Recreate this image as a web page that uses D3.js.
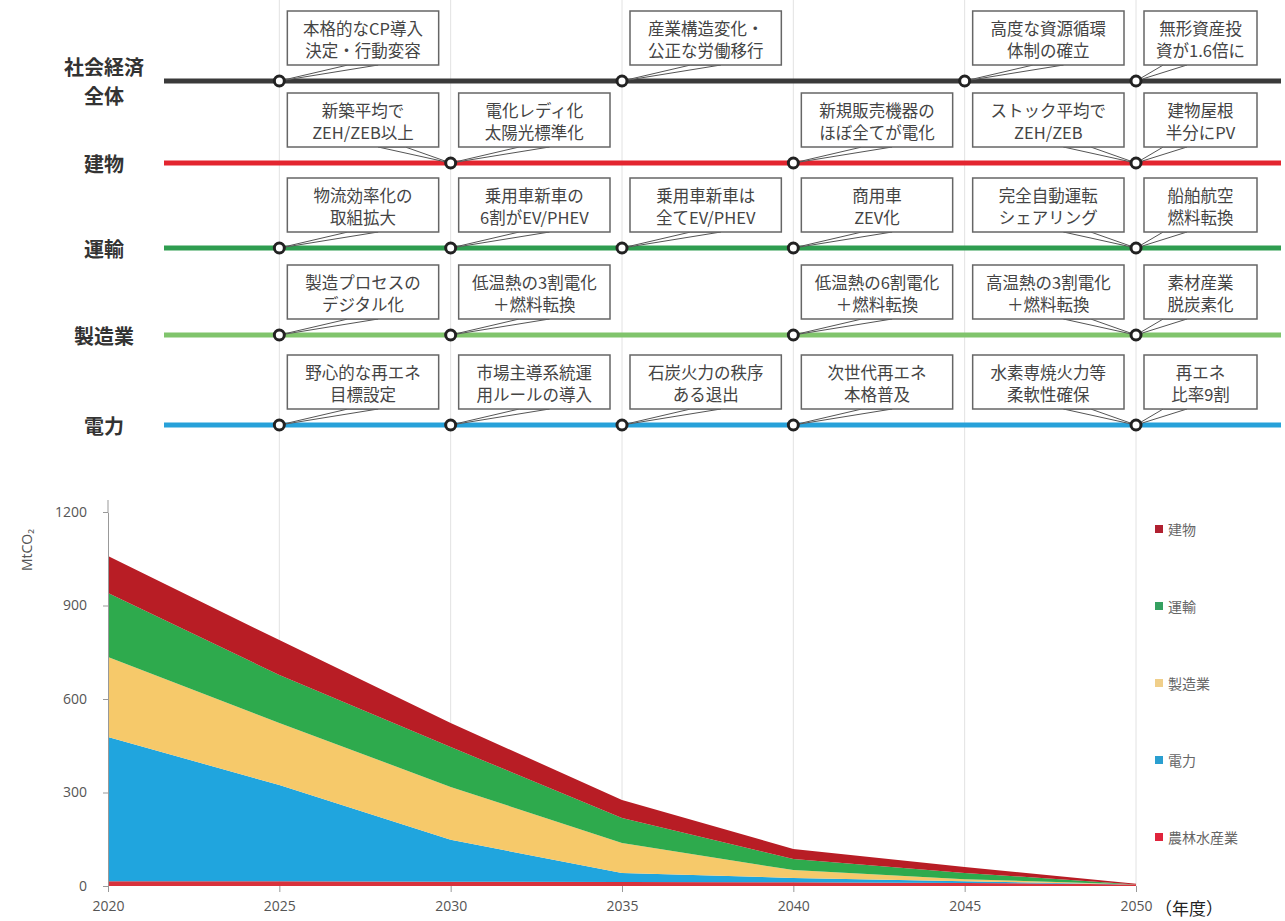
<!DOCTYPE html>
<html><head><meta charset="utf-8">
<script src="https://cdn.jsdelivr.net/npm/d3@7"></script>
<style>body{margin:0;background:#fff;} svg{display:block;font-family:"Noto Sans CJK JP","Noto Sans",sans-serif;}</style>
</head><body><svg id="c" width="1285" height="921"></svg>
<script>
// ---------- data ----------
const years = [2020, 2025, 2030, 2035, 2040, 2045, 2050];
const seriesKeys = ["農林水産業", "電力", "製造業", "運輸", "建物"];
const agriculture   = [15, 15, 14, 13, 12, 10, 5];
const power         = [463, 309, 134, 29, 14, 5, 0];
const manufacturing = [257, 199, 170, 96, 25, 7, 0];
const transport     = [205, 154, 128, 80, 36, 20, 0];
const buildings     = [119, 112, 77, 58, 32, 19, 2];
const yTicks = [0, 300, 600, 900, 1200];
const legendOrder = ["建物", "運輸", "製造業", "電力", "農林水産業"];

const rowNames = ["社会経済\n全体", "建物", "運輸", "製造業", "電力"];
const milestones = [
  {row:0, year:2025, col:2025, text:"本格的なCP導入\n決定・行動変容"},
  {row:0, year:2035, col:2035, text:"産業構造変化・\n公正な労働移行"},
  {row:0, year:2045, col:2045, text:"高度な資源循環\n体制の確立"},
  {row:0, year:2050, col:2050, text:"無形資産投\n資が1.6倍に"},
  {row:1, year:2030, col:2025, text:"新築平均で\nZEH/ZEB以上"},
  {row:1, year:2030, col:2030, text:"電化レディ化\n太陽光標準化"},
  {row:1, year:2040, col:2040, text:"新規販売機器の\nほぼ全てが電化"},
  {row:1, year:2050, col:2045, text:"ストック平均で\nZEH/ZEB"},
  {row:1, year:2050, col:2050, text:"建物屋根\n半分にPV"},
  {row:2, year:2025, col:2025, text:"物流効率化の\n取組拡大"},
  {row:2, year:2030, col:2030, text:"乗用車新車の\n6割がEV/PHEV"},
  {row:2, year:2035, col:2035, text:"乗用車新車は\n全てEV/PHEV"},
  {row:2, year:2040, col:2040, text:"商用車\nZEV化"},
  {row:2, year:2050, col:2045, text:"完全自動運転\nシェアリング"},
  {row:2, year:2050, col:2050, text:"船舶航空\n燃料転換"},
  {row:3, year:2025, col:2025, text:"製造プロセスの\nデジタル化"},
  {row:3, year:2030, col:2030, text:"低温熱の3割電化\n＋燃料転換"},
  {row:3, year:2040, col:2040, text:"低温熱の6割電化\n＋燃料転換"},
  {row:3, year:2050, col:2045, text:"高温熱の3割電化\n＋燃料転換"},
  {row:3, year:2050, col:2050, text:"素材産業\n脱炭素化"},
  {row:4, year:2025, col:2025, text:"野心的な再エネ\n目標設定"},
  {row:4, year:2030, col:2030, text:"市場主導系統運\n用ルールの導入"},
  {row:4, year:2035, col:2035, text:"石炭火力の秩序\nある退出"},
  {row:4, year:2040, col:2040, text:"次世代再エネ\n本格普及"},
  {row:4, year:2050, col:2045, text:"水素専焼火力等\n柔軟性確保"},
  {row:4, year:2050, col:2050, text:"再エネ\n比率9割"}
];

// ---------- styles / layout ----------
const colors = {"農林水産業":"#d8323c","電力":"#20a5de","製造業":"#f6c96a","運輸":"#2eaa4d","建物":"#b81d25"};
const legendColors = {"農林水産業":"#e0243c","電力":"#2a9fd0","製造業":"#f0cf8a","運輸":"#35a060","建物":"#b02030"};
const rowColors = ["#3a3a3a","#e3252f","#2f9d50","#80c46c","#27a1d9"];
const rowY = [81, 163, 248, 335, 425];

const svg = d3.select("#c");
const x = d3.scaleLinear().domain([2020, 2050]).range([108, 1136]);
const y = d3.scaleLinear().domain([0, 1200]).range([886, 512]);

// gridlines
svg.append("g").selectAll("line").data(years.slice(1)).join("line")
  .attr("x1", d => x(d)).attr("x2", d => x(d))
  .attr("y1", 0).attr("y2", y(0))
  .attr("stroke", "#e2e2e2").attr("stroke-width", 1);

// ---------- stacked area ----------
const table = years.map((yr, i) => ({
  year: yr, "農林水産業": agriculture[i], "電力": power[i], "製造業": manufacturing[i],
  "運輸": transport[i], "建物": buildings[i]
}));
const stacked = d3.stack().keys(seriesKeys)(table);
const area = d3.area().x(d => x(d.data.year)).y0(d => y(d[0])).y1(d => y(d[1]));
svg.append("g").selectAll("path").data(stacked).join("path")
  .attr("d", area).attr("fill", d => colors[d.key]);

// axes
const yAxis = svg.append("g").attr("transform", `translate(${x(2020)},0)`)
  .call(d3.axisLeft(y).tickValues(yTicks).tickFormat(d3.format("d")).tickSize(5).tickSizeOuter(0).tickPadding(16));
yAxis.select(".domain").attr("stroke", "#999");
yAxis.selectAll(".tick line").attr("stroke", "#999");
yAxis.selectAll("text").attr("font-family", "'Open Sans',sans-serif").attr("font-size", 14).attr("fill", "#555");
svg.append("line").attr("x1", x(2020)).attr("x2", x(2020)).attr("y1", 500).attr("y2", y(1200)).attr("stroke", "#999");

const xAxis = svg.append("g").attr("transform", `translate(0,${y(0)})`)
  .call(d3.axisBottom(x).tickValues(years).tickFormat(d3.format("d")).tickSize(6).tickSizeOuter(0).tickPadding(9));
xAxis.select(".domain").remove();
xAxis.selectAll(".tick line").attr("stroke", "#999");
xAxis.selectAll("text").attr("font-family", "'Open Sans',sans-serif").attr("font-size", 14).attr("fill", "#555");

svg.append("text").attr("transform", "translate(26,550) rotate(-90)")
  .attr("text-anchor", "middle").attr("dominant-baseline", "central")
  .attr("font-family", "'Open Sans',sans-serif").attr("font-size", 14).attr("fill", "#555")
  .text("MtCO₂");

svg.append("text").attr("x", 1155).attr("y", 907).attr("dominant-baseline", "central")
  .attr("font-size", 17).attr("fill", "#222").text("（年度）");

// legend
const lg = svg.append("g").selectAll("g").data(legendOrder).join("g")
  .attr("transform", (d, i) => `translate(1155,${529 + i * 77})`);
lg.append("rect").attr("x", 0).attr("y", -4).attr("width", 8).attr("height", 8).attr("fill", d => legendColors[d]);
lg.append("text").attr("x", 13).attr("y", 0).attr("dominant-baseline", "central")
  .attr("font-size", 14).attr("fill", "#666").text(d => d);

// ---------- timeline ----------
const tl = svg.append("g");
rowNames.forEach((name, r) => {
  const lines = name.split("\n");
  lines.forEach((t, k) => {
    tl.append("text").attr("x", 104).attr("y", rowY[r] + (k - (lines.length - 1) / 2) * 29)
      .attr("text-anchor", "middle").attr("dominant-baseline", "central")
      .attr("font-size", 20).attr("font-weight", 700).attr("fill", "#333").text(t);
  });
  tl.append("line").attr("x1", 164).attr("x2", 1281).attr("y1", rowY[r]).attr("y2", rowY[r])
    .attr("stroke", rowColors[r]).attr("stroke-width", 5);
});

function boxGeom(m) {
  const left = x(m.col) + 8;
  const right = m.col >= 2050 ? 1257 : x(m.col + 5) - 12;
  const bottom = rowY[m.row] - 16;
  return {left, right, top: bottom - 54, bottom, w: right - left};
}
const mg = tl.append("g");
milestones.forEach(m => {
  const b = boxGeom(m);
  const cx = x(m.year), cy = rowY[m.row];
  let f;
  if (m.col < m.year) f = [0.6, 0.78];
  else if (m.col >= 2050) f = [0.17, 0.38];
  else f = [0.4, 0.6];
  mg.append("path")
    .attr("d", `M${cx},${cy}L${b.left + f[0] * b.w},${b.bottom}L${b.left + f[1] * b.w},${b.bottom}Z`)
    .attr("fill", "#fff").attr("stroke", "#555").attr("stroke-width", 1);
});
milestones.forEach(m => {
  const b = boxGeom(m);
  mg.append("rect").attr("x", b.left).attr("y", b.top).attr("width", b.w).attr("height", b.bottom - b.top)
    .attr("fill", "#fff").attr("stroke", "#666").attr("stroke-width", 1.5);
  m.text.split("\n").forEach((t, k) => {
    mg.append("text").attr("x", b.left + b.w / 2).attr("y", b.top + 17 + k * 22)
      .attr("text-anchor", "middle").attr("dominant-baseline", "central")
      .attr("font-size", 16.5).attr("fill", "#444").text(t);
  });
});
const seen = new Set();
milestones.forEach(m => {
  const key = m.row + "-" + m.year;
  if (seen.has(key)) return;
  seen.add(key);
  mg.append("circle").attr("cx", x(m.year)).attr("cy", rowY[m.row]).attr("r", 5)
    .attr("fill", "#fff").attr("stroke", "#222").attr("stroke-width", 3);
});
</script></body></html>
